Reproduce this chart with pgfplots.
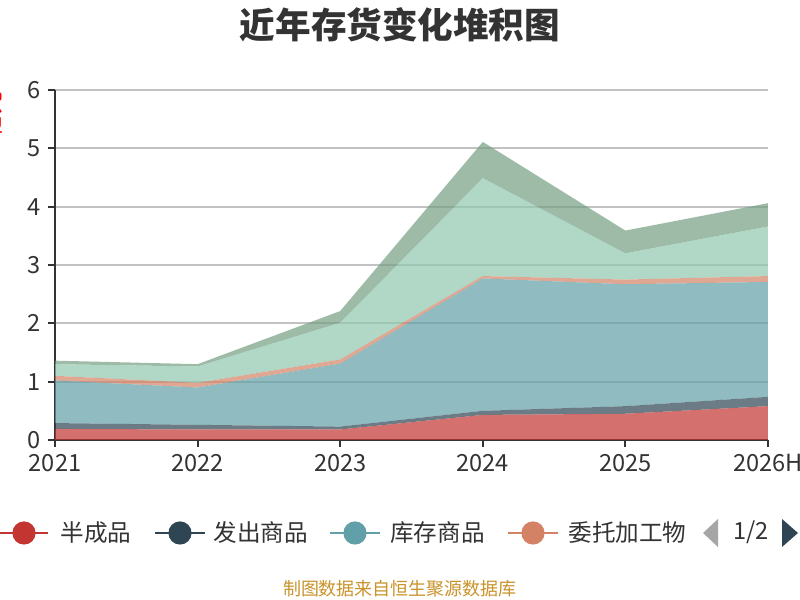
\documentclass[border=0pt]{standalone}
\usepackage{fontspec}
\setmainfont{Noto Sans CJK SC}
\usepackage{pgfplots}
\pgfplotsset{compat=1.18}
\definecolor{s1}{HTML}{C23531}
\definecolor{s2}{HTML}{2F4554}
\definecolor{s3}{HTML}{61A0A8}
\definecolor{s4}{HTML}{D48265}
\definecolor{s5}{HTML}{91C7AE}
\definecolor{s6}{HTML}{749F83}
\definecolor{txt}{HTML}{333333}
\definecolor{src}{HTML}{C9932A}
\begin{document}
\begin{tikzpicture}
\useasboundingbox (0,0) rectangle (400pt,300pt);
\fill[white] (0,0) rectangle (400pt,300pt);
\begin{axis}[
  at={(27.5pt,80pt)}, anchor=south west,
  scale only axis, width=356.5pt, height=175pt,
  xmin=0, xmax=5, ymin=0, ymax=6,
  stack plots=y,
  xtick={0,1,2,3,4,5},
  xticklabels={2021,2022,2023,2024,2025,2026H},
  ytick={0,1,2,3,4,5,6},
  axis x line*=bottom, axis y line*=left,
  axis line style={color=txt, line width=1pt},
  tick style={color=txt, line width=1pt},
  tick align=outside, major tick length=3.5pt,
  ymajorgrids, grid style={color=black!24, line width=1pt},
  ticklabel style={font=\fontsize{11.8}{13}\selectfont, text=txt},
  /pgf/number format/assume math mode=true,
  clip=false,
]
\addplot[fill=s1, fill opacity=0.7, draw=none] coordinates {(0,0.19) (1,0.18) (2,0.18) (3,0.43) (4,0.45) (5,0.58)} \closedcycle;
\addplot[fill=s2, fill opacity=0.7, draw=none] coordinates {(0,0.10) (1,0.08) (2,0.05) (3,0.07) (4,0.13) (5,0.16)} \closedcycle;
\addplot[fill=s3, fill opacity=0.7, draw=none] coordinates {(0,0.73) (1,0.64) (2,1.08) (3,2.27) (4,2.09) (5,1.97)} \closedcycle;
\addplot[fill=s4, fill opacity=0.7, draw=none] coordinates {(0,0.08) (1,0.08) (2,0.07) (3,0.04) (4,0.08) (5,0.10)} \closedcycle;
\addplot[fill=s5, fill opacity=0.7, draw=none] coordinates {(0,0.20) (1,0.28) (2,0.63) (3,1.68) (4,0.45) (5,0.85)} \closedcycle;
\addplot[fill=s6, fill opacity=0.7, draw=none] coordinates {(0,0.06) (1,0.04) (2,0.20) (3,0.62) (4,0.39) (5,0.40)} \closedcycle;
\end{axis}
% title
\node[font=\fontsize{17.8}{18}\selectfont\bfseries, text=txt] at (200pt,287.5pt) {近年存货变化堆积图};
% y axis name (clipped at the left edge, as in the reference)
\node[font=\fontsize{11.5}{12}\selectfont, text=red, rotate=90] at (-4pt,242.5pt) {亿元};
% legend
\begin{scope}[font=\fontsize{11.8}{12}\selectfont]
\draw[s1, line width=1pt] (-1pt,33.5pt) -- (24pt,33.5pt);
\fill[s1] (12pt,33.5pt) circle (5.8pt);
\node[anchor=west, text=txt, inner sep=0pt] at (30pt,33.5pt) {半成品};
\draw[s2, line width=1pt] (77.5pt,33.5pt) -- (102.5pt,33.5pt);
\fill[s2] (90pt,33.5pt) circle (5.8pt);
\node[anchor=west, text=txt, inner sep=0pt] at (106.5pt,33.5pt) {发出商品};
\draw[s3, line width=1pt] (165pt,33.5pt) -- (190pt,33.5pt);
\fill[s3] (177.5pt,33.5pt) circle (5.8pt);
\node[anchor=west, text=txt, inner sep=0pt] at (195pt,33.5pt) {库存商品};
\draw[s4, line width=1pt] (254pt,33.5pt) -- (279pt,33.5pt);
\fill[s4] (266.5pt,33.5pt) circle (5.8pt);
\node[anchor=west, text=txt, inner sep=0pt] at (284pt,33.5pt) {委托加工物};
\fill[black!35] (351.5pt,33.5pt) -- (359pt,40.5pt) -- (359pt,26.5pt) -- cycle;
\node[text=txt, inner sep=0pt] at (375.5pt,34pt) {1/2};
\fill[s2] (399pt,33.5pt) -- (391pt,40.5pt) -- (391pt,26.5pt) -- cycle;
\end{scope}
% source
\node[font=\fontsize{9}{10}\selectfont, text=src] at (200pt,5.5pt) {制图数据来自恒生聚源数据库};
\end{tikzpicture}
\end{document}
